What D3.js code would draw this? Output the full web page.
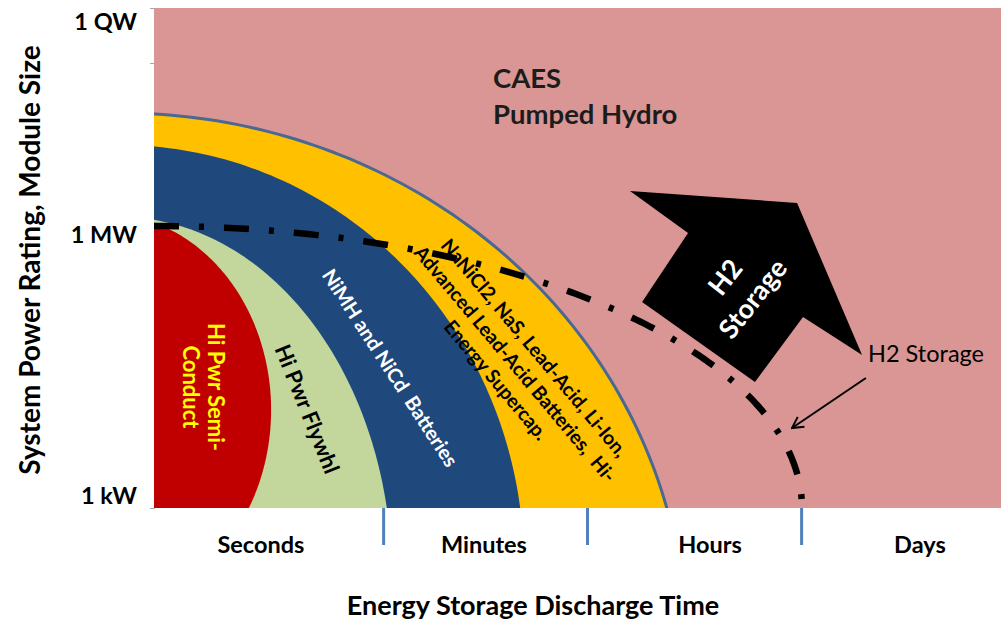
<!DOCTYPE html>
<html>
<head>
<meta charset="utf-8">
<script src="https://cdn.jsdelivr.net/npm/d3@7"></script>
<style>
  html, body { margin: 0; padding: 0; background: #fff; }
  svg { display: block; font-family: Lato, "Open Sans", sans-serif; }
</style>
</head>
<body>
<svg id="chart" width="1001" height="626"></svg>
<script>
// ---- Axis content -------------------------------------------------------
// x: discharge-time position (0..4), y: power-rating position (0..10)
const timeBands      = ["Seconds", "Minutes", "Hours", "Days"];
const timeLabelPos   = [0.505, 1.558, 2.626, 3.617];
const timeBandEdges  = [1.082, 2.045, 3.056];
const powerLabels    = ["1 kW", "1 MW", "1 QW"];
const powerLabelPos  = [0.24, 5.46, 9.72];
const powerMinorTick = [8.9];

// ---- Technology envelopes (ellipses in chart units) ---------------------
const techNames = ["NaNiCl2 / NaS / Lead-Acid / Li-Ion / Supercap", "NiMH and NiCd", "Flywheel", "Semiconductor"];
const techCx    = [-0.161, -0.161, -0.161, -0.231];
const techCy    = [-2.74, -1.14, -1.40, 1.96];
const techRx    = [2.673, 1.908, 1.285, 0.784];
const techRy    = [10.64, 8.40, 7.22, 3.92];

// H2 storage reach: quarter ellipse from the origin
const h2Reach = { rx: 3.06, ry: 5.64 };

// Block arrow pointing toward long-duration, high-power storage
const h2ArrowX = [2.248, 3.037, 3.344, 3.065, 2.838, 2.305, 2.522];
const h2ArrowY = [6.34, 6.10, 3.06, 3.82, 2.52, 4.12, 5.50];

// Callout for the H2 boundary
const calloutText = "H2 Storage";
const calloutAt   = [3.372, 3.08];
const calloutFrom = [3.362, 2.60];
const calloutTo   = [3.013, 1.60];

// Large-scale storage text
const bulkLines = ["CAES", "Pumped Hydro"];
const bulkAt    = [1.601, 8.40];

// Labels inside the envelopes
const bandLabels = [
  { lines: ["Hi Pwr Semi-", "Conduct"], x: 0.234, y: 2.42 },
  { lines: ["Hi Pwr Flywhl"], x: 0.7225, y: 1.98 },
  { lines: ["NiMH and NiCd  Batteries"], x: 1.1145, y: 2.80 },
  { lines: ["NaNiCl2, NaS, Lead-Acid, Li-Ion,", "Advanced Lead-Acid Batteries,  Hi-", "Energy Supercap."], x: 1.705, y: 2.88 },
  { lines: ["H2", "Storage"], x: 2.763, y: 4.40 }
];

// ---- Styling -------------------------------------------------------------
const techFill   = ["#FFC000", "#1F497D", "#C3D69B", "#C00000"];
const labelStyle = [
  { angle: 90, color: "#FFFF00", size: 22, lh: 25 },
  { angle: 68, color: "#000000", size: 22, lh: 24 },
  { angle: 57, color: "#FFFFFF", size: 20, lh: 24 },
  { angle: 50, color: "#000000", size: 19.5, lh: 25 },
  { angle: -52, color: "#FFFFFF", size: 27, lh: 35 }
];

const svg = d3.select("#chart");
const plot = { left: 154, right: 1001, top: 8, bottom: 508 };

const x = d3.scaleLinear().domain([0, 4]).range([plot.left, plot.right]);
const y = d3.scaleLinear().domain([0, 10]).range([plot.bottom, plot.top]);

const defs = svg.append("defs");
defs.append("clipPath").attr("id", "plotClip")
  .append("rect")
  .attr("x", plot.left).attr("y", plot.top)
  .attr("width", plot.right - plot.left).attr("height", plot.bottom - plot.top);

defs.append("marker")
  .attr("id", "openHead")
  .attr("viewBox", "0 0 14 14")
  .attr("refX", 12.5).attr("refY", 7)
  .attr("markerWidth", 14).attr("markerHeight", 14)
  .attr("markerUnits", "userSpaceOnUse")
  .attr("orient", "auto")
  .append("path")
  .attr("d", "M1.5,1 L12.5,7 L1.5,13")
  .attr("fill", "none").attr("stroke", "#000").attr("stroke-width", 2);

const g = svg.append("g").attr("clip-path", "url(#plotClip)");

// background region (CAES / pumped hydro)
g.append("rect")
  .attr("x", plot.left).attr("y", plot.top)
  .attr("width", plot.right - plot.left).attr("height", plot.bottom - plot.top)
  .attr("fill", "#D99694");

// ellipse outline sampled in chart units and projected through the scales
function ellipsePoints(cx, cy, rx, ry, t0, t1, n) {
  return d3.range(n + 1).map(i => {
    const t = t0 + (t1 - t0) * i / n;
    return [x(cx + rx * Math.cos(t)), y(cy + ry * Math.sin(t))];
  });
}
const closedLine = d3.line().curve(d3.curveLinearClosed);
const openLine = d3.line();

techNames.forEach((name, i) => {
  g.append("path")
    .attr("class", "tech")
    .attr("d", closedLine(ellipsePoints(techCx[i], techCy[i], techRx[i], techRy[i], 0, 2 * Math.PI, 360)))
    .attr("fill", techFill[i])
    .attr("stroke", i === 0 ? "#4A6891" : "none")
    .attr("stroke-width", i === 0 ? 3 : 0);
});

// H2 reach boundary (dash-dot)
g.append("path")
  .attr("d", openLine(ellipsePoints(0, 0, h2Reach.rx, h2Reach.ry, Math.PI / 2, 0, 200)))
  .attr("fill", "none")
  .attr("stroke", "#000")
  .attr("stroke-width", 6.5)
  .attr("stroke-dasharray", "25,20,5,20");

// block arrow
g.append("path")
  .attr("d", closedLine(h2ArrowX.map((v, i) => [x(v), y(h2ArrowY[i])])))
  .attr("fill", "#000");

// labels inside the regions
bandLabels.forEach((lab, i) => {
  const st = labelStyle[i];
  const t = g.append("text")
    .attr("transform", `translate(${x(lab.x)},${y(lab.y)}) rotate(${st.angle})`)
    .attr("text-anchor", "middle")
    .attr("fill", st.color)
    .attr("font-size", st.size)
    .attr("font-weight", 700)
    .style("white-space", "pre");
  const n = lab.lines.length;
  lab.lines.forEach((ln, k) => {
    t.append("tspan")
      .attr("x", 0)
      .attr("y", (k - (n - 1) / 2) * st.lh)
      .attr("dy", "0.35em")
      .text(ln);
  });
});

// CAES / Pumped Hydro
g.append("text")
  .attr("x", x(bulkAt[0])).attr("y", y(bulkAt[1]))
  .attr("font-size", 27.5).attr("font-weight", 700).attr("fill", "#1c1c1c")
  .selectAll("tspan").data(bulkLines).join("tspan")
  .attr("x", x(bulkAt[0]))
  .attr("dy", (d, i) => i === 0 ? 0 : 36)
  .text(d => d);

// callout
g.append("text")
  .attr("x", x(calloutAt[0])).attr("y", y(calloutAt[1]))
  .attr("dy", "0.35em")
  .attr("font-size", 23.5).attr("fill", "#000")
  .text(calloutText);
g.append("line")
  .attr("x1", x(calloutFrom[0])).attr("y1", y(calloutFrom[1]))
  .attr("x2", x(calloutTo[0])).attr("y2", y(calloutTo[1]))
  .attr("stroke", "#000").attr("stroke-width", 2)
  .attr("marker-end", "url(#openHead)");

// ---- Axes ---------------------------------------------------------------
const yAxis = svg.append("g")
  .attr("transform", `translate(${plot.left},0)`)
  .call(d3.axisLeft(y).tickValues(powerMinorTick).tickSize(4).tickFormat(""));
yAxis.select(".domain").attr("stroke", "#A6A6A6");
yAxis.selectAll(".tick line").attr("stroke", "#A6A6A6");
yAxis.lower();

svg.append("g").selectAll("text").data(powerLabels).join("text")
  .attr("x", 137)
  .attr("y", (d, i) => y(powerLabelPos[i]))
  .attr("dy", "0.35em")
  .attr("text-anchor", "end")
  .attr("font-size", 23.5).attr("font-weight", 700).attr("fill", "#000")
  .text(d => d);

const xAxis = svg.append("g")
  .attr("transform", `translate(0,${plot.bottom})`)
  .call(d3.axisBottom(x).tickValues(timeBandEdges).tickSize(37).tickFormat(""));
xAxis.select(".domain").remove();
xAxis.selectAll(".tick line").attr("stroke", "#4F81BD").attr("stroke-width", 3);

svg.append("g").selectAll("text").data(timeBands).join("text")
  .attr("x", (d, i) => x(timeLabelPos[i]))
  .attr("y", 545)
  .attr("dy", "0.35em")
  .attr("text-anchor", "middle")
  .attr("font-size", 23.5).attr("font-weight", 700).attr("fill", "#000")
  .text(d => d);

// axis titles
svg.append("text")
  .attr("transform", "translate(30,260) rotate(-90)")
  .attr("dy", "0.35em")
  .attr("text-anchor", "middle")
  .attr("font-size", 28).attr("font-weight", 700).attr("fill", "#000")
  .text("System Power Rating, Module Size");

svg.append("text")
  .attr("x", 533).attr("y", 606)
  .attr("dy", "0.35em")
  .attr("text-anchor", "middle")
  .attr("font-size", 27).attr("font-weight", 700).attr("fill", "#000")
  .text("Energy Storage Discharge Time");
</script>
</body>
</html>
